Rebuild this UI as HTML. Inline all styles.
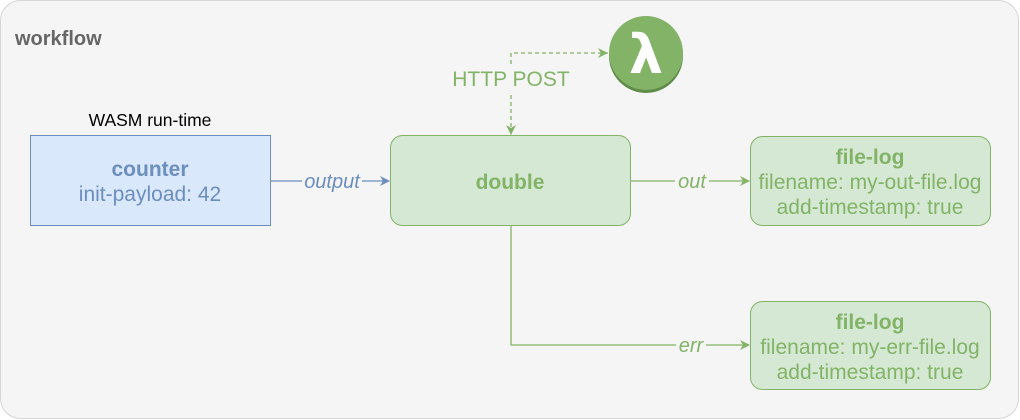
<!DOCTYPE html>
<html><head><style>body{margin:0;background:#fff}svg{display:block}</style></head><body>
<svg width="1020" height="420" viewBox="0 0 1020 420" xmlns="http://www.w3.org/2000/svg" font-family="Liberation Sans, sans-serif">
<defs>
<marker id="ag" markerWidth="10" markerHeight="10" refX="9" refY="5" orient="auto" markerUnits="userSpaceOnUse"><path d="M0,0 L10,5 L0,10 L3,5 Z" fill="#82b366"/></marker>
<marker id="ab" markerWidth="10" markerHeight="10" refX="9" refY="5" orient="auto" markerUnits="userSpaceOnUse"><path d="M0,0 L10,5 L0,10 L3,5 Z" fill="#6c8ebf"/></marker>
</defs>
<rect x="0.5" y="0.5" width="1018" height="418" rx="20" fill="#f5f5f5" stroke="#d6d6d6"/>
<text x="15" y="45" font-size="20" font-weight="bold" fill="#666">workflow</text>
<text x="150" y="126" font-size="17.5" fill="#000" text-anchor="middle">WASM run-time</text>
<rect x="30.5" y="135.5" width="240" height="90" fill="#dae8fc" stroke="#6c8ebf"/>
<text x="150" y="176" font-size="21" font-weight="bold" fill="#6c8ebf" text-anchor="middle">counter</text>
<text x="150" y="201" font-size="21" fill="#6c8ebf" text-anchor="middle">init-payload: 42</text>
<line x1="271" y1="181" x2="389" y2="181" stroke="#6c8ebf" stroke-width="1.3" marker-end="url(#ab)"/>
<rect x="302" y="169" width="60" height="24" fill="#f5f5f5"/>
<text x="332" y="188" font-size="20" font-style="italic" fill="#6c8ebf" text-anchor="middle">output</text>
<rect x="390.5" y="135.5" width="240" height="90" rx="12" fill="#d5e8d4" stroke="#82b366"/>
<text x="510" y="189" font-size="21" font-weight="bold" fill="#82b366" text-anchor="middle">double</text>
<path d="M511,134 V53 H608" fill="none" stroke="#82b366" stroke-width="1.3" stroke-dasharray="4,3"/>
<path d="M608,53 L598,48 L601,53 L598,58 Z" fill="#82b366"/>
<path d="M511,135 L506,125 L511,128 L516,125 Z" fill="#82b366"/>
<rect x="450" y="66" width="122" height="26" fill="#f5f5f5"/>
<text x="511" y="86" font-size="21" fill="#82b366" text-anchor="middle">HTTP POST</text>
<circle cx="646" cy="56" r="37" fill="#5e8b48"/>
<circle cx="646" cy="53" r="37" fill="#82b366"/>
<text x="646" y="73" font-size="54" font-weight="bold" fill="#fff" text-anchor="middle" font-family="DejaVu Sans, sans-serif">λ</text>
<line x1="631" y1="181" x2="749" y2="181" stroke="#82b366" stroke-width="1.3" marker-end="url(#ag)"/>
<rect x="675" y="169" width="34" height="24" fill="#f5f5f5"/>
<text x="692" y="188" font-size="20" font-style="italic" fill="#82b366" text-anchor="middle">out</text>
<path d="M511,226 V345 H749" fill="none" stroke="#82b366" stroke-width="1.3" marker-end="url(#ag)"/>
<rect x="676" y="333" width="30" height="24" fill="#f5f5f5"/>
<text x="691" y="352" font-size="20" font-style="italic" fill="#82b366" text-anchor="middle">err</text>
<rect x="750.5" y="136.5" width="240" height="89" rx="12" fill="#d5e8d4" stroke="#82b366"/>
<text x="870" y="164" font-size="21" font-weight="bold" fill="#82b366" text-anchor="middle">file-log</text>
<text x="870" y="189" font-size="21" fill="#82b366" text-anchor="middle">filename: my-out-file.log</text>
<text x="870" y="214" font-size="21" fill="#82b366" text-anchor="middle">add-timestamp: true</text>
<rect x="750.5" y="301.5" width="240" height="88" rx="12" fill="#d5e8d4" stroke="#82b366"/>
<text x="870" y="329" font-size="21" font-weight="bold" fill="#82b366" text-anchor="middle">file-log</text>
<text x="870" y="354" font-size="21" fill="#82b366" text-anchor="middle">filename: my-err-file.log</text>
<text x="870" y="379" font-size="21" fill="#82b366" text-anchor="middle">add-timestamp: true</text>
</svg>
</body></html>
